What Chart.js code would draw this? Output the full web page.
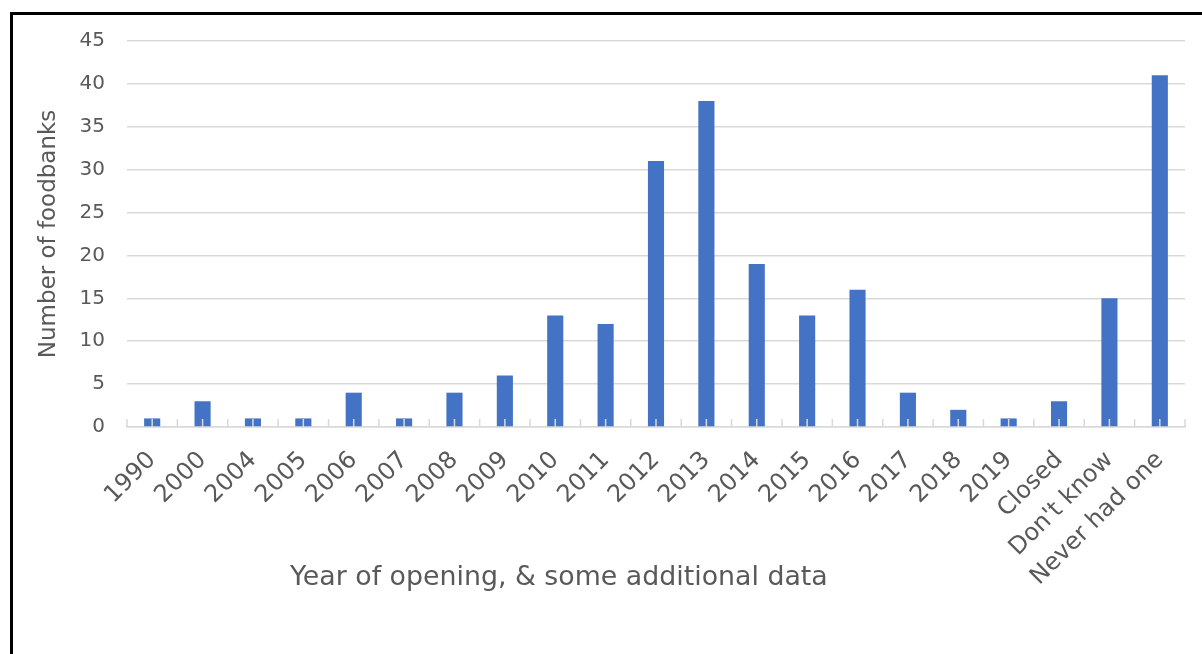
<!DOCTYPE html>
<html>
<head>
<meta charset="utf-8">
<script src="https://cdn.jsdelivr.net/npm/chart.js@4"></script>
<style>
  body { margin: 0; background: #fff; }
  #wrap { position: relative; width: 1202px; height: 654px; }
</style>
</head>
<body>
<div id="wrap"><canvas id="foodbankChart" width="1202" height="654"></canvas></div>
<script>
const categories = ["1990", "2000", "2004", "2005", "2006", "2007", "2008", "2009", "2010", "2011",
    "2012", "2013", "2014", "2015", "2016", "2017", "2018", "2019", "Closed", "Don't know", "Never had one"];
const foodbanks = [1, 3, 1, 1, 4, 1, 4, 6, 13, 12, 31, 38, 19, 13, 16, 4, 2, 1, 3, 15, 41];
const yTicks = [0, 5, 10, 15, 20, 25, 30, 35, 40, 45];

const grey = "#595959";
const font = "'DejaVu Sans', Verdana, sans-serif";

// frame, short axis ticks and the x title
const extras = {
    id: "extras",
    beforeDraw(chart) {
        const c = chart.ctx;
        c.save();
        c.strokeStyle = "#000";
        c.lineWidth = 3;
        c.strokeRect(11.5, 13.5, 1300, 800);
        c.restore();
    },
    afterDatasetsDraw(chart) {
        const c = chart.ctx;
        const x = chart.scales.x;
        const bottom = chart.chartArea.bottom;
        const step = x.getPixelForValue(1) - x.getPixelForValue(0);
        c.save();
        c.strokeStyle = "#d9d9d9";
        c.lineWidth = 1.5;
        c.beginPath();
        for (let i = 0; i < categories.length; i++) {
            const mid = x.getPixelForValue(i);
            [mid - step / 2, mid].forEach(px => {
                c.moveTo(px, bottom - 8);
                c.lineTo(px, bottom);
            });
        }
        c.moveTo(x.right, bottom - 8);
        c.lineTo(x.right, bottom);
        c.stroke();
        c.fillStyle = grey;
        c.font = "26.8px " + font;
        c.textAlign = "left";
        c.textBaseline = "middle";
        c.fillText("Year of opening, & some additional data", 290, 578);
        c.restore();
    }
};

new Chart(document.getElementById("foodbankChart"), {
    type: "bar",
    data: {
        labels: categories,
        datasets: [
            {
                label: "Number of foodbanks",
                data: foodbanks,
                backgroundColor: "#4472c4",
                barPercentage: 0.32,
                categoryPercentage: 1
            }
        ]
    },
    plugins: [extras],
    options: {
        responsive: false,
        animation: false,
        layout: {
            padding: { left: 14, right: 17, top: 41, bottom: 0 }
        },
        plugins: {
            legend: { display: false },
            tooltip: { enabled: false }
        },
        scales: {
            x: {
                offset: true,
                afterFit: (axis) => { axis.height = 227; },
                grid: { display: false, drawTicks: false },
                border: { color: "#d9d9d9", width: 1.5 },
                ticks: {
                    color: grey,
                    font: { family: font, size: 24 },
                    maxRotation: 45,
                    minRotation: 45,
                    autoSkip: false,
                    padding: 19
                }
            },
            y: {
                min: 0,
                max: 45,
                afterFit: (axis) => { axis.width = 113; },
                afterBuildTicks: (axis) => {
                    axis.ticks = yTicks.map(v => ({ value: v }));
                },
                grid: { color: "#d9d9d9", lineWidth: 1.5, drawTicks: false },
                border: { display: false },
                ticks: {
                    color: grey,
                    font: { family: font, size: 20 },
                    padding: 22
                },
                title: {
                    display: true,
                    text: "Number of foodbanks",
                    color: grey,
                    font: { family: font, size: 23, weight: "normal" },
                    padding: { top: 21, bottom: 0 }
                }
            }
        }
    }
});
</script>
</body>
</html>
